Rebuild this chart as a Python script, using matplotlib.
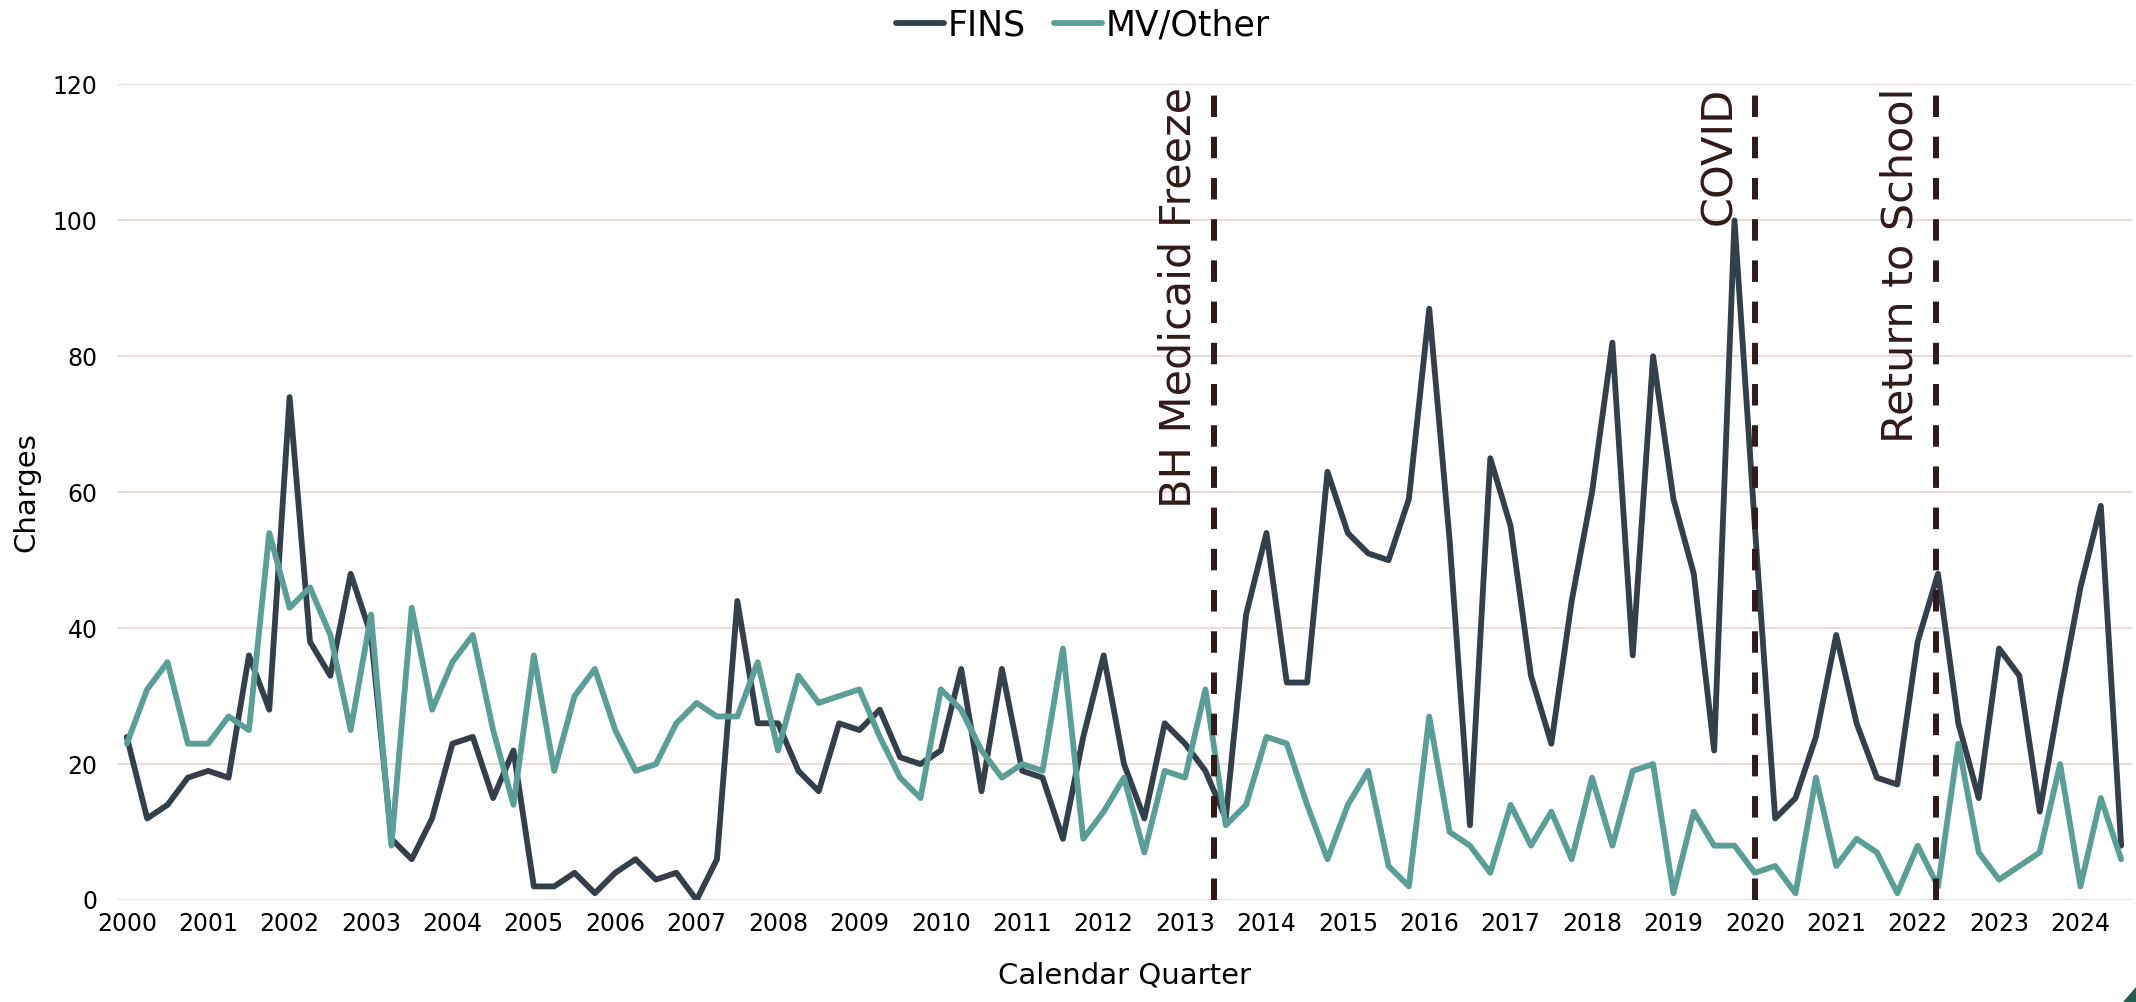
import numpy as np
import matplotlib.pyplot as plt
from matplotlib import font_manager
from matplotlib.patches import Polygon

# quarterly counts, 2000 Q1 .. 2024 Q3
start_year = 2000
fins = [24, 12, 14, 18, 19, 18, 36, 28, 74, 38, 33, 48,
        39, 9, 6, 12, 23, 24, 15, 22, 2, 2, 4, 1,
        4, 6, 3, 4, 0, 6, 44, 26, 26, 19, 16, 26,
        25, 28, 21, 20, 22, 34, 16, 34, 19, 18, 9, 24,
        36, 20, 12, 26, 23, 19, 12, 42, 54, 32, 32, 63,
        54, 51, 50, 59, 87, 53, 11, 65, 55, 33, 23, 44,
        60, 82, 36, 80, 59, 48, 22, 100, 55, 12, 15, 24,
        39, 26, 18, 17, 38, 48, 26, 15, 37, 33, 13, 30,
        46, 58, 8]
mv_other = [23, 31, 35, 23, 23, 27, 25, 54, 43, 46, 39, 25,
            42, 8, 43, 28, 35, 39, 25, 14, 36, 19, 30, 34,
            25, 19, 20, 26, 29, 27, 27, 35, 22, 33, 29, 30,
            31, 24, 18, 15, 31, 28, 22, 18, 20, 19, 37, 9,
            13, 18, 7, 19, 18, 31, 11, 14, 24, 23, 14, 6,
            14, 19, 5, 2, 27, 10, 8, 4, 14, 8, 13, 6,
            18, 8, 19, 20, 1, 13, 8, 8, 4, 5, 1, 18,
            5, 9, 7, 1, 8, 2, 23, 7, 3, 5, 7, 20,
            2, 15, 6]
year_ticks = list(range(2000, 2025))

# events (fractional year)
event_labels = ["BH Medicaid Freeze", "COVID", "Return to School"]
event_x = [2013.36, 2020.0, 2022.23]

quarters = start_year + np.arange(len(fins)) / 4.0

fins_color = "#333F4A"
mv_color = "#5B9E97"
event_color = "#331A1A"
grid_color = "#EBD4D2"

names = {f.name for f in font_manager.fontManager.ttflist}
narrow = "Liberation Sans Narrow" if "Liberation Sans Narrow" in names else "DejaVu Sans"

fig = plt.figure(figsize=(21.36, 10.02), dpi=100)
ax = fig.add_axes([0.0548, 0.1018, 0.9432, 0.8139])

ax.plot(quarters, fins, color=fins_color, lw=4.2, solid_joinstyle="round",
        solid_capstyle="round", label="FINS", zorder=3)
ax.plot(quarters, mv_other, color=mv_color, lw=4.2, solid_joinstyle="round",
        solid_capstyle="round", label="MV/Other", zorder=3)

for lab, xe in zip(event_labels, event_x):
    ax.axvline(xe, color=event_color, lw=4.3, linestyle=(0, (3.6, 3.3)), zorder=4)
    ax.annotate(lab, xy=(xe, 1), xycoords=("data", "axes fraction"),
                xytext=(-26, -2), textcoords="offset points",
                rotation=90, ha="center", va="top", fontsize=31,
                family=narrow, color=event_color, zorder=5)

ax.set_ylim(0, 120)
ax.set_yticks(range(0, 121, 20))
ax.set_xlim(1999.88, 2024.63)
ax.set_xticks(year_ticks)
ax.set_xticklabels([str(y) for y in year_ticks])
ax.grid(axis="y", color=grid_color, lw=1.2)
ax.set_axisbelow(True)
for s in ax.spines.values():
    s.set_visible(False)
ax.tick_params(axis="both", length=0, labelsize=17, colors="black")
ax.tick_params(axis="y", pad=14)
ax.tick_params(axis="x", pad=9)

ax.set_ylabel("Charges", fontsize=21, labelpad=9)
ax.set_xlabel("Calendar Quarter", fontsize=21, labelpad=18)

fig.legend(loc="center", bbox_to_anchor=(0.507, 0.975), ncol=2, frameon=False,
           fontsize=25, handlelength=1.4, handletextpad=0.1, columnspacing=0.8)

# corner decoration
fig.patches.append(Polygon([(0.9938, 0.0), (1.0, 0.0), (1.0, 0.015)],
                           closed=True, transform=fig.transFigure,
                           color="#245D4D", zorder=10))

fig.savefig("out.png", dpi=100)
plt.close(fig)
